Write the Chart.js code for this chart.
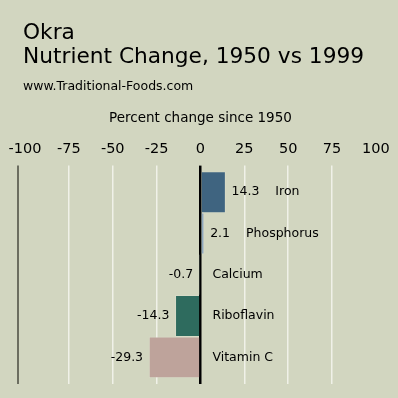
<!DOCTYPE html>
<html>
<head>
<meta charset="utf-8">
<script src="https://cdn.jsdelivr.net/npm/chart.js@4"></script>
<style>
  html, body { margin: 0; padding: 0; background: #d2d6c0; }
  canvas { display: block; }
</style>
</head>
<body>
<canvas id="myChart" width="398" height="398"></canvas>
<script>
const nutrients = ['Iron', 'Phosphorus', 'Calcium', 'Riboflavin', 'Vitamin C'];
const changeValues = [14.3, 2.1, -0.7, -14.3, -29.3];
const barColors = ['#3f6480', '#8ea6bd', '#b6cdc2', '#2e6b5e', '#bea39b'];
const tickValues = [-100, -75, -50, -25, 0, 25, 50, 75, 100];
const titleLines = ['Okra', 'Nutrient Change, 1950 vs 1999'];
const siteName = 'www.Traditional-Foods.com';
const axisTitle = 'Percent change since 1950';

const FONT = '"DejaVu Sans", sans-serif';

function gridColor(ctx) {
  const v = ctx.tick ? ctx.tick.value : null;
  if (v === 0) return '#000000';
  if (v === ctx.scale.min) return '#6c6e60';
  if (v === -100 || v === 100) return 'rgba(0,0,0,0)';
  return '#f0f1e8';
}
function gridWidth(ctx) {
  const v = ctx.tick ? ctx.tick.value : null;
  if (v === 0) return 2.5;
  if (v === ctx.scale.min) return 2;
  return 1.5;
}
function setTicks(scale) {
  scale.ticks = [scale.min].concat(tickValues).map(v => ({ value: v }));
}

// page background
const background = {
  id: 'background',
  beforeDraw(chart) {
    const c = chart.ctx;
    c.save();
    c.fillStyle = '#d2d6c0';
    c.fillRect(0, 0, chart.width, chart.height);
    c.restore();
  }
};

// heading lines in the top left corner
const heading = {
  id: 'heading',
  afterDraw(chart) {
    const c = chart.ctx;
    c.save();
    c.fillStyle = '#000';
    c.textBaseline = 'alphabetic';
    c.textAlign = 'left';
    c.font = '21.7px ' + FONT;
    c.fillText(titleLines[0], 23, 39);
    c.fillText(titleLines[1], 23, 63);
    c.font = '12.5px ' + FONT;
    c.fillText(siteName, 23, 90);
    c.restore();
  }
};

// value and nutrient name next to each bar
const barLabels = {
  id: 'barLabels',
  afterDatasetsDraw(chart) {
    const c = chart.ctx;
    const meta = chart.getDatasetMeta(0);
    const zero = chart.scales.x.getPixelForValue(0);
    c.save();
    c.fillStyle = '#000';
    c.font = '12.5px ' + FONT;
    c.textBaseline = 'middle';
    meta.data.forEach((bar, i) => {
      const v = changeValues[i];
      const txt = v.toFixed(1);
      if (v >= 0) {
        c.textAlign = 'left';
        const x = bar.x + 6;
        c.fillText(txt, x, bar.y);
        c.fillText(nutrients[i], x + c.measureText(txt).width + 16, bar.y);
      } else {
        c.textAlign = 'right';
        c.fillText(txt, bar.x - 6, bar.y);
        c.textAlign = 'left';
        c.fillText(nutrients[i], zero + 12, bar.y);
      }
    });
    c.restore();
  }
};

const data = {
  labels: nutrients,
  datasets: [{
    data: changeValues,
    backgroundColor: barColors,
    borderColor: 'rgba(255,255,255,0.12)',
    borderWidth: 1,
    categoryPercentage: 1,
    barPercentage: 1
  }]
};

const config = {
  type: 'bar',
  data,
  options: {
    indexAxis: 'y',
    responsive: false,
    animation: false,
    layout: { padding: { top: 110, left: 18, right: 14, bottom: 14 } },
    plugins: {
      legend: { display: false },
      tooltip: { enabled: false }
    },
    scales: {
      x: {
        position: 'top',
        min: -104,
        max: 104,
        afterBuildTicks: setTicks,
        border: { display: false },
        grid: { color: gridColor, lineWidth: gridWidth, tickLength: 6 },
        ticks: {
          padding: 8,
          color: '#000',
          font: { family: FONT, size: 14.5 },
          callback: (v) => tickValues.includes(v) ? String(v) : ''
        },
        title: {
          display: true,
          text: axisTitle,
          color: '#000',
          font: { family: FONT, size: 13.5 },
          padding: { top: 0, bottom: 6 }
        }
      },
      x2: {
        position: 'bottom',
        axis: 'x',
        min: -104,
        max: 104,
        afterBuildTicks: setTicks,
        border: { display: false },
        grid: { color: gridColor, lineWidth: gridWidth, tickLength: 6, drawOnChartArea: false },
        ticks: { display: false }
      },
      y: { display: false }
    }
  },
  plugins: [background, heading, barLabels]
};

var myChart = new Chart(document.getElementById('myChart').getContext('2d'), config);
</script>
</body>
</html>
